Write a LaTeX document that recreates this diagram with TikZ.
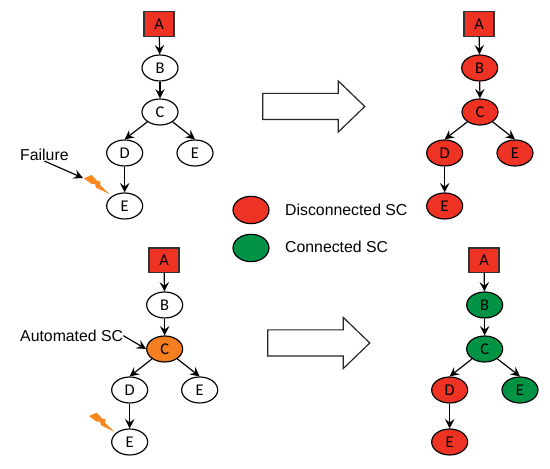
\documentclass[tikz,border=0pt]{standalone}
\usepackage{fontspec}
\setmainfont{Liberation Sans}
\newfontfamily\letterfont{Carlito}
\usetikzlibrary{arrows.meta, shapes.geometric, shapes.arrows}
\definecolor{discred}{RGB}{238,50,36}
\definecolor{connred}{RGB}{0,146,69}
\definecolor{autoor}{RGB}{245,127,32}
\definecolor{boltor}{RGB}{247,135,30}
\newcommand{\boltpath}{(2.52,8.72) -- (2.75,8.82) -- (2.92,8.64) -- (3.02,8.62) -- (3.00,8.52)
    -- (3.28,8.25) -- (2.88,8.44) -- (2.85,8.55) -- (2.75,8.55) -- cycle}

\begin{document}
\begin{tikzpicture}[>={Stealth[length=8pt, width=8pt, inset=3pt]},
    sc/.style={ellipse, draw=black, line width=1pt, fill=#1, inner sep=0pt,
               minimum width=1.08cm, minimum height=0.78cm,
               font=\letterfont\fontsize{14}{16}\selectfont},
    sc/.default=white,
    src/.style={rectangle, draw=black!80, line width=1pt, fill=discred, inner sep=0pt,
                minimum width=0.9cm, minimum height=0.74cm,
                font=\letterfont\fontsize{14}{16}\selectfont},
    link/.style={->, line width=1pt},
    bigarrow/.style={single arrow, draw=black!85, line width=1pt, fill=white, inner xsep=0pt,
                     inner ysep=0.375cm, minimum height=3.06cm,
                     single arrow head extend=0.375cm, single arrow tip angle=88},
    lbl/.style={inner sep=0pt, font=\fontsize{13.5}{16}\selectfont}]

\useasboundingbox (0,0) rectangle (16.5,14.07);

% ════════════════════════════════════════
%  TOP LEFT: failure, no automation
% ════════════════════════════════════════

\node[src] (a1) at (4.77,13.35) {A};
\node[sc] (b1) at (4.80,12.03) {B};
\node[sc] (c1) at (4.80,10.71) {C};
\node[sc] (d1) at (3.74,9.48) {D};
\node[sc] (e1) at (5.85,9.48) {E};
\node[sc] (f1) at (3.74,7.89) {E};

\draw[link] (a1) -- (b1);
\draw[link] (b1) -- (c1);
\draw[link] (c1) -- (d1.north);
\draw[link] (c1) -- (e1.north);
\draw[link] (d1) -- (f1);

% Lightning and its label
\fill[boltor] \boltpath;
\coordinate (bolt1) at (2.49,8.73);
\node[lbl, anchor=west] (failure) at (0.60,9.42) {Failure};
\draw[link] (failure.south) -- (bolt1);

% ════════════════════════════════════════
%  TOP RIGHT: everything disconnected
% ════════════════════════════════════════

\node[src] (a2) at (14.37,13.35) {A};
\node[sc=discred] (b2) at (14.39,12.03) {B};
\node[sc=discred] (c2) at (14.40,10.71) {C};
\node[sc=discred] (d2) at (13.34,9.48) {D};
\node[sc=discred] (e2) at (15.45,9.48) {E};
\node[sc=discred] (f2) at (13.34,7.89) {E};

\draw[link] (a2) -- (b2);
\draw[link] (b2) -- (c2);
\draw[link] (c2) -- (d2.north);
\draw[link] (c2) -- (e2.north);
\draw[link] (d2) -- (f2);

% Big arrow
\node[bigarrow] (arrow1) at (9.21,10.875) {};

% ════════════════════════════════════════
%  LEGEND
% ════════════════════════════════════════

\node[sc=discred, minimum height=0.82cm] (legdisc) at (7.53,7.77) {};
\node[sc=connred, minimum height=0.82cm] (legconn) at (7.53,6.63) {};
\node[lbl, anchor=west] (txtdisc) at (8.55,7.77) {Disconnected SC};
\node[lbl, anchor=west] (txtconn) at (8.55,6.66) {Connected SC};

% ════════════════════════════════════════
%  BOTTOM LEFT: failure, automated SC at C
% ════════════════════════════════════════

\node[src] (a3) at (4.92,6.26) {A};
\node[sc] (b3) at (4.94,4.92) {B};
\node[sc=autoor] (c3) at (4.94,3.60) {C};
\node[sc] (d3) at (3.89,2.37) {D};
\node[sc] (e3) at (5.99,2.37) {E};
\node[sc] (f3) at (3.89,0.81) {E};

\draw[link] (a3) -- (b3);
\draw[link] (b3) -- (c3);
\draw[link] (c3) -- (d3.north);
\draw[link] (c3) -- (e3.north);
\draw[link] (d3) -- (f3);

% Lightning and its label
\fill[boltor, shift={(0.15,-7.13)}] \boltpath;
\node[lbl, anchor=west] (autosc) at (0.60,4.00) {Automated SC};
\draw[link] (autosc.east) -- (c3.west);

% ════════════════════════════════════════
%  BOTTOM RIGHT: part stays connected
% ════════════════════════════════════════

\node[src] (a4) at (14.52,6.26) {A};
\node[sc=connred] (b4) at (14.54,4.92) {B};
\node[sc=connred] (c4) at (14.54,3.60) {C};
\node[sc=discred] (d4) at (13.49,2.37) {D};
\node[sc=connred] (e4) at (15.60,2.37) {E};
\node[sc=discred] (f4) at (13.49,0.81) {E};

\draw[link] (a4) -- (b4);
\draw[link] (b4) -- (c4);
\draw[link] (c4) -- (d4.north);
\draw[link] (c4) -- (e4.north);
\draw[link] (d4) -- (f4);

% Big arrow
\node[bigarrow] (arrow2) at (9.36,3.78) {};

\end{tikzpicture}
\end{document}
